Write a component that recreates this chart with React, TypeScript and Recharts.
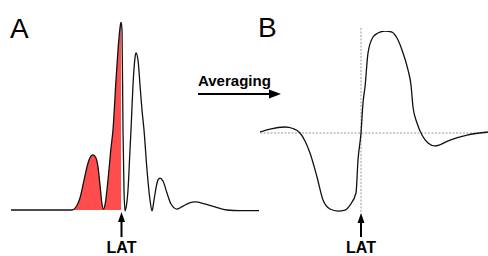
import { Area, ComposedChart, Line, ReferenceLine, XAxis, YAxis } from "recharts";

// A: single electrogram, time in ms, amplitude scaled to the tallest peak
const aTime = [1, 62, 66, 70, 73, 76, 79, 83, 86, 88, 90, 92, 93.5, 95, 98, 101, 103, 106, 108, 110, 111, 112, 113, 114, 115, 116, 118, 120, 121, 123, 125, 126, 128, 130, 132, 134, 137, 140, 142, 144, 146, 148, 150, 153, 157, 161, 167, 173, 179, 185, 195, 205, 217, 230, 249];
const aAmp = [0, 0, 0.016, 0.064, 0.133, 0.207, 0.266, 0.293, 0.277, 0.229, 0.133, 0.032, 0.005, 0.027, 0.16, 0.33, 0.426, 0.691, 0.851, 0.968, 1, 0.957, 0.426, 0.106, -0.005, 0.011, 0.106, 0.319, 0.426, 0.665, 0.809, 0.835, 0.798, 0.665, 0.532, 0.426, 0.213, 0.053, -0.005, 0.053, 0.117, 0.16, 0.17, 0.154, 0.09, 0.032, 0.005, 0.021, 0.037, 0.043, 0.032, 0.016, 0, -0.003, -0.003];
const latA = 111.5;

// B: averaged signal, same units
const bTime = [0, 10, 25, 33, 40, 45, 50, 57, 63, 70, 78, 85, 90, 96, 98, 101, 103, 105, 108, 113, 118, 125, 132, 137, 142, 148, 151, 153, 157, 162, 168, 175, 190, 207, 228];
const bAmp = [0.01, 0.039, 0.059, 0.044, 0, -0.078, -0.196, -0.431, -0.657, -0.745, -0.765, -0.755, -0.706, -0.588, -0.265, 0, 0.294, 0.451, 0.784, 0.941, 0.98, 1, 0.99, 0.931, 0.814, 0.618, 0.471, 0.255, 0.098, -0.02, -0.098, -0.127, -0.069, -0.02, 0.01];
const latB = 101;

const aData = aTime.map((t, i) => ({ t, v: aAmp[i] }));
const bData = bTime.map((t, i) => ({ t, v: bAmp[i] }));

// red shading stops at LAT (the tallest peak)
const fillStop = (aTime[aAmp.indexOf(Math.max(...aAmp))] - aTime[0]) / (aTime[aTime.length - 1] - aTime[0]);

const FONT = "'Liberation Sans', Arial, sans-serif";

const latArrow = (p: any) => {
  const x = p.x1;
  const top = Math.min(p.y1, p.y2);
  const bottom = Math.max(p.y1, p.y2);
  return (
    <g>
      <line x1={x} y1={top + 8} x2={x} y2={bottom} stroke="#000" strokeWidth={2} />
      <polygon points={`${x - 3.5},${top + 10} ${x + 3.5},${top + 10} ${x},${top}`} fill="#000" />
      <text x={x} y={bottom + 16} textAnchor="middle" fontSize={16} fontWeight="bold" fontFamily={FONT}>
        LAT
      </text>
    </g>
  );
};

export default function App() {
  return (
    <div style={{ position: "absolute", left: 0, top: 0, width: 488, height: 256, background: "#fff" }}>
      <div style={{ position: "absolute", left: 0, top: 0 }}>
        <ComposedChart width={260} height={256} data={aData} margin={{ top: 22, right: 0, bottom: 27.2, left: 10 }}>
          <defs>
            <linearGradient id="latFill" x1="0" y1="0" x2="1" y2="0">
              <stop offset={fillStop} stopColor="#ff4d4d" stopOpacity={1} />
              <stop offset={fillStop} stopColor="#ff4d4d" stopOpacity={0} />
            </linearGradient>
          </defs>
          <XAxis type="number" dataKey="t" domain={[0, 250]} allowDataOverflow hide />
          <YAxis type="number" domain={[-0.1, 1]} allowDataOverflow hide />
          <Area type="monotone" dataKey="v" baseValue={0} stroke="none" fill="url(#latFill)" fillOpacity={1} isAnimationActive={false} />
          <Line type="monotone" dataKey="v" stroke="#111" strokeWidth={1.3} dot={false} activeDot={false} isAnimationActive={false} />
          <ReferenceLine segment={[{ x: latA, y: -0.011 }, { x: latA, y: -0.144 }]} ifOverflow="visible" shape={latArrow} />
        </ComposedChart>
      </div>
      <div style={{ position: "absolute", left: 250, top: 0 }}>
        <ComposedChart width={238} height={256} data={bData} margin={{ top: 31, right: 0, bottom: 21, left: 10 }}>
          <XAxis type="number" dataKey="t" domain={[0, 228]} allowDataOverflow hide />
          <YAxis type="number" domain={[-1, 1]} allowDataOverflow hide />
          <ReferenceLine y={0} stroke="#999" strokeDasharray="2 1.5" />
          <ReferenceLine segment={[{ x: latB, y: 1.03 }, { x: latB, y: -0.784 }]} ifOverflow="visible" stroke="#999" strokeDasharray="2 1.5" />
          <Line type="monotone" dataKey="v" stroke="#111" strokeWidth={1.3} dot={false} activeDot={false} isAnimationActive={false} />
          <ReferenceLine segment={[{ x: latB, y: -0.784 }, { x: latB, y: -1.02 }]} ifOverflow="visible" shape={latArrow} />
        </ComposedChart>
      </div>
      <svg width={488} height={256} style={{ position: "absolute", left: 0, top: 0, pointerEvents: "none" }}>
        <text x={10} y={38} fontSize={28} fontFamily={FONT}>A</text>
        <text x={258} y={37} fontSize={28} fontFamily={FONT}>B</text>
        <text x={198} y={86} fontSize={15} fontWeight="bold" fontFamily={FONT}>Averaging</text>
        <line x1={198} y1={94} x2={272} y2={94} stroke="#000" strokeWidth={2} />
        <polygon points="269,89.5 281,94 269,98.5" fill="#000" />
      </svg>
    </div>
  );
}
